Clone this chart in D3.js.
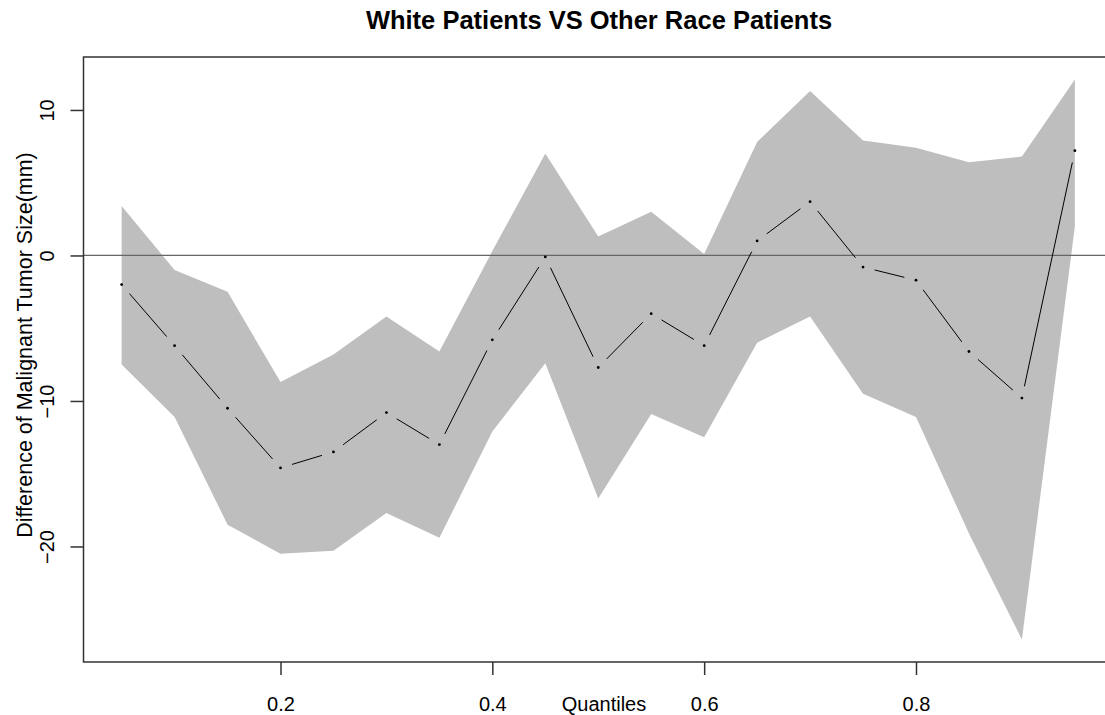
<!DOCTYPE html>
<html>
<head>
<meta charset="utf-8">
<script src="https://cdn.jsdelivr.net/npm/d3@7"></script>
<style>
  html, body { margin: 0; padding: 0; background: #fff; }
  svg { display: block; font-family: "Liberation Sans", Arial, sans-serif; }
</style>
</head>
<body>
<div id="chart"></div>
<script>
// quantile levels
const quantiles = [0.05, 0.10, 0.15, 0.20, 0.25, 0.30, 0.35, 0.40, 0.45, 0.50,
                   0.55, 0.60, 0.65, 0.70, 0.75, 0.80, 0.85, 0.90, 0.95];
// estimated difference (white vs other race)
const estimate = [-2.0, -6.2, -10.5, -14.6, -13.5, -10.8, -13.0, -5.8, -0.1, -7.7,
                  -4.0, -6.2, 1.0, 3.7, -0.8, -1.7, -6.6, -9.8, 7.2];
// confidence band
const upper = [3.4, -1.0, -2.5, -8.7, -6.8, -4.2, -6.6, 0.3, 7.0, 1.3,
               3.0, 0.1, 7.8, 11.3, 7.9, 7.4, 6.4, 6.8, 12.1];
const lower = [-7.5, -11.1, -18.5, -20.5, -20.3, -17.7, -19.4, -12.1, -7.4, -16.7,
               -10.9, -12.5, -6.0, -4.2, -9.5, -11.1, -19.1, -26.4, 2.0];
const xTicks = [0.2, 0.4, 0.6, 0.8];
const yTicks = [-20, -10, 0, 10];

const width = 1105, height = 715;
// plot region (right edge runs past the window, like the source image)
const box = { left: 83.5, top: 57, right: 1113, bottom: 662 };

const svg = d3.select("#chart").append("svg")
  .attr("width", width)
  .attr("height", height);

// R style limits: data range padded by 4%
const xr = d3.extent(quantiles), xpad = (xr[1] - xr[0]) * 0.04;
const yr = [d3.min(lower), d3.max(upper)], ypad = (yr[1] - yr[0]) * 0.04;

const x = d3.scaleLinear().domain([xr[0] - xpad, xr[1] + xpad]).range([box.left, box.right]);
const y = d3.scaleLinear().domain([yr[0] - ypad, yr[1] + ypad]).range([box.bottom, box.top]);

const rows = quantiles.map((q, i) => ({ q, est: estimate[i], lo: lower[i], hi: upper[i] }));

// shaded band
svg.append("path")
  .datum(rows)
  .attr("fill", "#bebebe")
  .attr("d", d3.area()
    .x(d => x(d.q))
    .y0(d => y(d.lo))
    .y1(d => y(d.hi)));

// reference line at zero
svg.append("line")
  .attr("x1", box.left).attr("x2", box.right)
  .attr("y1", y(0)).attr("y2", y(0))
  .attr("stroke", "#666")
  .attr("stroke-width", 1.2);

// estimate line, drawn like type = "b" (gaps around points)
const gap = 12;
const segs = d3.pairs(rows).map(([a, b]) => {
  const x1 = x(a.q), y1 = y(a.est), x2 = x(b.q), y2 = y(b.est);
  const len = Math.hypot(x2 - x1, y2 - y1);
  const ux = (x2 - x1) / len, uy = (y2 - y1) / len;
  return { x1: x1 + ux * gap, y1: y1 + uy * gap, x2: x2 - ux * gap, y2: y2 - uy * gap, ok: len > 2 * gap };
}).filter(s => s.ok);

svg.append("g").selectAll("line")
  .data(segs)
  .join("line")
  .attr("x1", d => d.x1).attr("y1", d => d.y1)
  .attr("x2", d => d.x2).attr("y2", d => d.y2)
  .attr("stroke", "#000")
  .attr("stroke-width", 1);

svg.append("g").selectAll("circle")
  .data(rows)
  .join("circle")
  .attr("cx", d => x(d.q))
  .attr("cy", d => y(d.est))
  .attr("r", 1.4)
  .attr("fill", "#000");

// box
svg.append("rect")
  .attr("x", box.left).attr("y", box.top)
  .attr("width", box.right - box.left)
  .attr("height", box.bottom - box.top)
  .attr("fill", "none")
  .attr("stroke", "#333")
  .attr("stroke-width", 1.5);

// x axis
const gx = svg.append("g")
  .attr("transform", "translate(0," + box.bottom + ")")
  .call(d3.axisBottom(x).tickValues(xTicks).tickFormat(d3.format(".1f")).tickSize(13).tickPadding(22));
gx.select(".domain").remove();
gx.selectAll(".tick line").attr("stroke", "#333").attr("stroke-width", 1.5);
gx.selectAll(".tick text").attr("fill", "#000").style("font-size", "20px");

// y axis, labels parallel to axis
const gy = svg.append("g")
  .attr("transform", "translate(" + box.left + ",0)")
  .call(d3.axisLeft(y).tickValues(yTicks).tickSize(13));
gy.select(".domain").remove();
gy.selectAll(".tick line").attr("stroke", "#333").attr("stroke-width", 1.5);
gy.selectAll(".tick text")
  .attr("x", null).attr("dy", null)
  .attr("text-anchor", "middle")
  .attr("transform", "translate(-30,0) rotate(-90)")
  .attr("fill", "#000")
  .style("font-size", "20px");

// titles
svg.append("text")
  .attr("x", 599).attr("y", 29)
  .attr("text-anchor", "middle")
  .style("font-size", "25.5px")
  .style("font-weight", "bold")
  .text("White Patients VS Other Race Patients");

svg.append("text")
  .attr("x", 604).attr("y", 711)
  .attr("text-anchor", "middle")
  .style("font-size", "20px")
  .text("Quantiles");

svg.append("text")
  .attr("transform", "translate(32,345) rotate(-90)")
  .attr("text-anchor", "middle")
  .style("font-size", "21.5px")
  .text("Difference of Malignant Tumor Size(mm)");
</script>
</body>
</html>
